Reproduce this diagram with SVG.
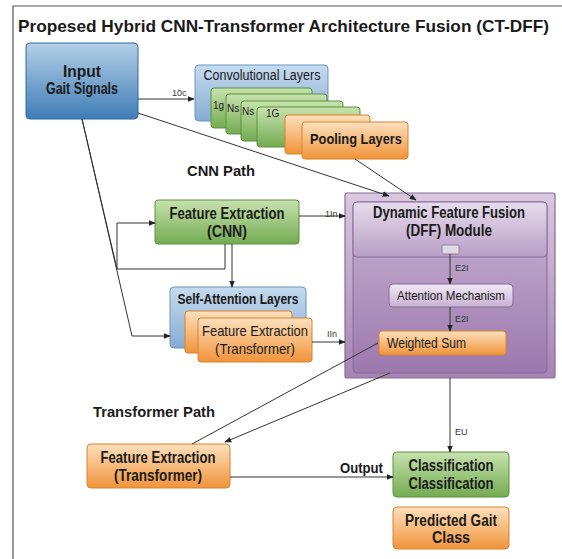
<svg xmlns="http://www.w3.org/2000/svg" width="562" height="559" viewBox="0 0 562 559">
<defs>
<linearGradient id="gBlue" x1="0" y1="0" x2="0" y2="1"><stop offset="0" stop-color="#b4cfe8"/><stop offset="1" stop-color="#3f7db6"/></linearGradient>
<linearGradient id="gBlueL" x1="0" y1="0" x2="0" y2="1"><stop offset="0" stop-color="#c6dbee"/><stop offset="1" stop-color="#86acd2"/></linearGradient>
<linearGradient id="gGreen" x1="0" y1="0" x2="0" y2="1"><stop offset="0" stop-color="#c7e2ae"/><stop offset="1" stop-color="#74ab52"/></linearGradient>
<linearGradient id="gOrange" x1="0" y1="0" x2="0" y2="1"><stop offset="0" stop-color="#fde0bd"/><stop offset="1" stop-color="#f0943a"/></linearGradient>
<linearGradient id="gPurple" x1="0" y1="0" x2="0" y2="1"><stop offset="0" stop-color="#d8c8df"/><stop offset="1" stop-color="#a584b4"/></linearGradient>
<linearGradient id="gPurpleH" x1="0" y1="0" x2="0" y2="1"><stop offset="0" stop-color="#e6dcec"/><stop offset="1" stop-color="#b89ec6"/></linearGradient>
<linearGradient id="gPurpleB" x1="0" y1="0" x2="0" y2="1"><stop offset="0" stop-color="#c9b4d3"/><stop offset="1" stop-color="#9c78ad"/></linearGradient>
<linearGradient id="gAtt" x1="0" y1="0" x2="0" y2="1"><stop offset="0" stop-color="#f1eaf4"/><stop offset="1" stop-color="#c7b0d2"/></linearGradient>
<marker id="arr" viewBox="0 0 10 10" refX="9" refY="5" markerWidth="7" markerHeight="7" orient="auto" markerUnits="userSpaceOnUse"><path d="M0,1 L10,5 L0,9 Z" fill="#222"/></marker>
</defs>
<style>
text{font-family:"Liberation Sans Narrow","Liberation Sans",Arial,sans-serif;fill:#1a1a1a;}
.b{font-weight:bold;}
.lbl{font-size:9px;fill:#333;}
.con{fill:none;stroke:#333;stroke-width:1;}
.blue{fill:url(#gBlue);stroke:#2f6aa0;stroke-width:1;}
.blueL{fill:url(#gBlueL);stroke:#6d95bf;stroke-width:1;}
.green{fill:url(#gGreen);stroke:#5c9140;stroke-width:1;}
.orange{fill:url(#gOrange);stroke:#d9822e;stroke-width:1;}
</style>
<rect width="562" height="559" fill="#ffffff"/>
<path d="M13,559 V6 H562" fill="none" stroke="#555" stroke-width="1.2"/>
<text class="b" x="18" y="32" font-size="17" textLength="531" lengthAdjust="spacingAndGlyphs">Propesed Hybrid CNN-Transformer Architecture Fusion (CT-DFF)</text>

<g id="input">
<rect class="blue" x="26" y="43" width="112" height="76" rx="4"/>
<text class="b" x="82" y="77" font-size="16" text-anchor="middle" textLength="38" lengthAdjust="spacingAndGlyphs">Input</text>
<text class="b" x="82" y="94" font-size="16" text-anchor="middle" textLength="72" lengthAdjust="spacingAndGlyphs">Gait Signals</text>
</g>

<g id="conv">
<rect class="blueL" x="195" y="65" width="133" height="56" rx="4"/>
<text x="262" y="80" font-size="14" text-anchor="middle" textLength="117" lengthAdjust="spacingAndGlyphs">Convolutional Layers</text>
<rect class="green" x="211" y="88" width="101" height="40" rx="3"/>
<rect class="green" x="226" y="94" width="101" height="40" rx="3"/>
<rect class="green" x="241" y="101" width="102" height="40" rx="3"/>
<rect class="green" x="257" y="107" width="103" height="40" rx="3"/>
<text x="213" y="109" font-size="10">1g</text>
<text x="227" y="112" font-size="10">Ns</text>
<text x="242" y="115" font-size="10">Ns</text>
<text x="266" y="117" font-size="10">1G</text>
</g>

<g id="pooling">
<rect class="orange" x="285" y="115" width="85" height="39" rx="3"/>
<rect class="orange" x="302" y="122" width="106" height="37" rx="3"/>
<text class="b" x="356" y="144" font-size="15" text-anchor="middle" textLength="92" lengthAdjust="spacingAndGlyphs">Pooling Layers</text>
</g>

<text class="b" x="187" y="176" font-size="15" textLength="68" lengthAdjust="spacingAndGlyphs">CNN Path</text>
<text class="b" x="93" y="417" font-size="15" textLength="122" lengthAdjust="spacingAndGlyphs">Transformer Path</text>

<g id="fe-cnn">
<rect class="green" x="155" y="200" width="144" height="44" rx="3"/>
<text class="b" x="227" y="219" font-size="16" text-anchor="middle" textLength="115" lengthAdjust="spacingAndGlyphs">Feature Extraction</text>
<text class="b" x="227" y="237" font-size="16" text-anchor="middle" textLength="40" lengthAdjust="spacingAndGlyphs">(CNN)</text>
</g>

<g id="self-attention">
<rect class="blueL" x="170" y="287" width="136" height="61" rx="4"/>
<text class="b" x="238" y="304" font-size="14" text-anchor="middle" textLength="121" lengthAdjust="spacingAndGlyphs">Self-Attention Layers</text>
<rect class="orange" x="185" y="311" width="107" height="42" rx="3"/>
<rect class="orange" x="198" y="318" width="114" height="44" rx="3"/>
<text x="255" y="336" font-size="15" text-anchor="middle" textLength="106" lengthAdjust="spacingAndGlyphs">Feature Extraction</text>
<text x="255" y="354" font-size="15" text-anchor="middle" textLength="80" lengthAdjust="spacingAndGlyphs">(Transformer)</text>
</g>

<g id="dff">
<rect x="345" y="193" width="210" height="185" rx="2" fill="url(#gPurple)" stroke="#8a6a9a" stroke-width="1.2"/>
<rect x="353" y="202" width="194" height="171" rx="4" fill="url(#gPurpleB)" stroke="#8a6a9a" stroke-width="1"/>
<rect x="353" y="202" width="194" height="55" rx="4" fill="url(#gPurpleH)" stroke="#8a6a9a" stroke-width="1"/>
<text class="b" x="449" y="218" font-size="16" text-anchor="middle" textLength="152" lengthAdjust="spacingAndGlyphs">Dynamic Feature Fusion</text>
<text class="b" x="449" y="236" font-size="16" text-anchor="middle" textLength="86" lengthAdjust="spacingAndGlyphs">(DFF) Module</text>
<rect x="442" y="245" width="17" height="9" rx="1.5" fill="#e2d8e8" stroke="#8a6a9a" stroke-width="0.8"/>
</g>

<g id="attention">
<rect x="389" y="284" width="124" height="23" rx="4" fill="url(#gAtt)" stroke="#8a6a9a" stroke-width="1"/>
<text x="451" y="300" font-size="13" text-anchor="middle" textLength="108" lengthAdjust="spacingAndGlyphs">Attention Mechanism</text>
</g>

<g id="weighted-sum">
<rect class="orange" x="379" y="331" width="127" height="24" rx="3"/>
<text x="387" y="348" font-size="14" textLength="79" lengthAdjust="spacingAndGlyphs">Weighted Sum</text>
</g>

<g id="fe-transformer">
<rect class="orange" x="87" y="444" width="143" height="44" rx="4"/>
<text class="b" x="158" y="463" font-size="16" text-anchor="middle" textLength="115" lengthAdjust="spacingAndGlyphs">Feature Extraction</text>
<text class="b" x="158" y="481" font-size="16" text-anchor="middle" textLength="88" lengthAdjust="spacingAndGlyphs">(Transformer)</text>
</g>

<g id="classification">
<rect class="green" x="393" y="452" width="116" height="45" rx="4"/>
<text class="b" x="451" y="471" font-size="16" text-anchor="middle" textLength="85" lengthAdjust="spacingAndGlyphs">Classification</text>
<text class="b" x="451" y="489" font-size="16" text-anchor="middle" textLength="85" lengthAdjust="spacingAndGlyphs">Classification</text>
</g>

<g id="predicted">
<rect class="orange" x="393" y="507" width="116" height="42" rx="4"/>
<text class="b" x="451" y="526" font-size="16" text-anchor="middle" textLength="92" lengthAdjust="spacingAndGlyphs">Predicted Gait</text>
<text class="b" x="451" y="543" font-size="16" text-anchor="middle" textLength="38" lengthAdjust="spacingAndGlyphs">Class</text>
</g>

<g id="connectors">
<path class="con" d="M138,99 H194" marker-end="url(#arr)"/>
<path class="con" d="M138,113 L389,196" marker-end="url(#arr)"/>
<path class="con" d="M355,159 L416,200" marker-end="url(#arr)"/>
<path class="con" d="M299,216 H345" marker-end="url(#arr)"/>
<path class="con" d="M225,244 V269 H117 V223 H155" marker-end="url(#arr)"/>
<path class="con" d="M232,244 V287" marker-end="url(#arr)"/>
<path class="con" d="M82,119 L117,269"/>
<path class="con" d="M82,119 L132,336 H170" marker-end="url(#arr)"/>
<path class="con" d="M312,342 H345" marker-end="url(#arr)"/>
<path class="con" d="M450,254 V284" marker-end="url(#arr)"/>
<path class="con" d="M450,307 V331" marker-end="url(#arr)"/>
<path class="con" d="M378,343 L192,444"/>
<path class="con" d="M390,373 L225,442" marker-end="url(#arr)"/>
<path class="con" d="M450,378 V452" marker-end="url(#arr)"/>
<path class="con" d="M230,477 H393" marker-end="url(#arr)"/>
<text class="lbl" x="172" y="96">10c</text>
<text class="lbl" x="325" y="217">1In</text>
<text class="lbl" x="327" y="337">IIn</text>
<text class="lbl" x="455" y="271" font-size="7">E2I</text>
<text class="lbl" x="455" y="322" font-size="7">E2I</text>
<text class="lbl" x="455" y="435" font-size="8">EU</text>
<text class="b" x="340" y="473" font-size="14" textLength="43" lengthAdjust="spacingAndGlyphs">Output</text>
</g>
</svg>
